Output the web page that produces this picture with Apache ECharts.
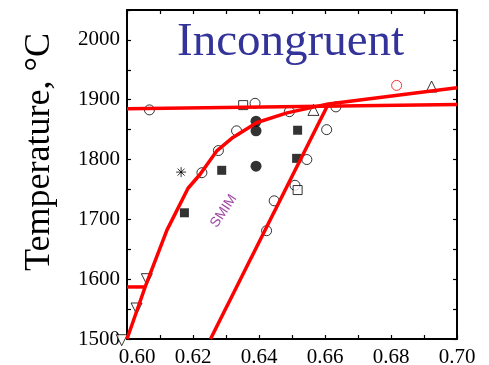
<!DOCTYPE html>
<html>
<head>
<meta charset="utf-8">
<script src="https://cdn.jsdelivr.net/npm/echarts@6/dist/echarts.min.js"></script>
<style>
  html, body { margin: 0; padding: 0; background: #ffffff; }
  #chart { width: 489px; height: 365px; }
</style>
</head>
<body>
<div id="chart"></div>
<script>
// Phase boundaries (mole fraction x, temperature in °C)
const liquidus = [[0.600, 1500], [0.6055, 1587], [0.6121, 1682], [0.6185, 1752], [0.6221, 1775],
  [0.6273, 1815], [0.6321, 1837], [0.6394, 1862], [0.6485, 1878], [0.661, 1893], [0.700, 1920]];
const solidus = [[0.6253, 1500], [0.661, 1893]];
const peritecticLine = [[0.600, 1885], [0.700, 1892]];
const eutecticLine = [[0.600, 1587], [0.6055, 1587]];

// Experimental points
const openCircles = [[0.6068, 1883], [0.6388, 1894], [0.6492, 1880], [0.6633, 1888], [0.6605, 1850],
  [0.6332, 1848], [0.6277, 1815], [0.6545, 1800], [0.6227, 1778], [0.6509, 1757], [0.6446, 1731], [0.6423, 1681]];
const redCircles = [[0.6817, 1924]];
const upTriangles = [[0.6565, 1883], [0.6923, 1922]];
const downTriangles = [[0.6060, 1600], [0.6029, 1551], [0.5984, 1498]];
const filledCircles = [[0.6391, 1864], [0.6391, 1848], [0.6391, 1789]];
const filledSquares = [[0.6517, 1849], [0.6514, 1802], [0.6287, 1782], [0.6174, 1711]];
const openSquares = [[0.6517, 1749], [0.6352, 1891]];
const asterisks = [[0.6164, 1779]];

// Region label
const regionLabel = [[0.6293, 1714]];

// Axis settings
const xTicks = { min: 0.60, max: 0.70, step: 0.02 };
const yTicks = { min: 1500, max: 2050, step: 100 };

const serif = "'Liberation Serif', 'DejaVu Serif', serif";
const axisColor = '#000000';

function baseAxis(extra) {
  return Object.assign({
    type: 'value',
    axisLine: { show: true, onZero: false, lineStyle: { color: axisColor, width: 2 } },
    axisTick: { show: true, inside: true, length: 4, lineStyle: { color: axisColor, width: 1.2 } },
    minorTick: { show: true, splitNumber: 2, length: 4, lineStyle: { color: axisColor, width: 1.2 } },
    splitLine: { show: false },
    minorSplitLine: { show: false }
  }, extra);
}

function scatter(data, symbol, size, style, extra) {
  return Object.assign({
    type: 'scatter',
    data: data,
    symbol: symbol,
    symbolSize: size,
    clip: false,
    itemStyle: style,
    z: 3
  }, extra || {});
}

function redLine(data) {
  return {
    type: 'line',
    data: data,
    showSymbol: false,
    symbol: 'none',
    clip: false,
    lineStyle: { color: '#ff0000', width: 3.5 },
    z: 5,
    silent: true
  };
}

const chart = echarts.init(document.getElementById('chart'), null, { renderer: 'canvas' });

const open = { color: '#ffffff', borderColor: '#000000', borderWidth: 1 };
const filled = { color: '#000000', borderColor: '#000000', borderWidth: 0 };

chart.setOption({
  animation: false,
  backgroundColor: '#ffffff',
  title: {
    text: 'Incongruent',
    left: 172,
    top: 14,
    textStyle: { fontFamily: serif, fontSize: 47, fontWeight: 'normal', color: '#333399' }
  },
  grid: { left: 127, right: 32, top: 10, bottom: 26, outerBoundsMode: 'none' },
  xAxis: [
    baseAxis({
      min: xTicks.min, max: xTicks.max, interval: xTicks.step, position: 'bottom',
      axisLabel: {
        show: true, margin: 8, color: '#000000', fontFamily: serif, fontSize: 21,
        formatter: function (v) {
          const s = v.toFixed(2);
          return Math.abs(v - xTicks.min) < 1e-9 ? '{first|' + s + '}' : s;
        },
        rich: { first: { fontFamily: serif, fontSize: 21, color: '#000000', padding: [0, 0, 0, 20] } }
      }
    }),
    baseAxis({
      min: xTicks.min, max: xTicks.max, interval: xTicks.step, position: 'top',
      axisLabel: { show: false }
    })
  ],
  yAxis: [
    baseAxis({
      min: yTicks.min, max: yTicks.max, interval: yTicks.step, position: 'left',
      axisLabel: { show: true, margin: 7, color: '#000000', fontFamily: serif, fontSize: 21,
        formatter: function (v) { return v <= 2000 ? String(v) : ''; } }
    }),
    baseAxis({
      min: yTicks.min, max: yTicks.max, interval: yTicks.step, position: 'right',
      axisLabel: { show: false }
    })
  ],
  graphic: [{
    type: 'text',
    x: 40,
    y: 152,
    rotation: Math.PI / 2,
    style: {
      text: 'Temperature, °C',
      fontFamily: serif,
      fontSize: 36,
      fill: '#000000',
      textAlign: 'center',
      textVerticalAlign: 'middle'
    }
  }],
  series: [
    redLine(peritecticLine),
    redLine(eutecticLine),
    redLine(liquidus),
    redLine(solidus),
    scatter(openCircles, 'circle', 10, open),
    scatter(redCircles, 'circle', 10, { color: '#ffffff', borderColor: '#ff0000', borderWidth: 1 }),
    scatter(upTriangles, 'triangle', 11, open),
    scatter(downTriangles, 'triangle', 11, open, { symbolRotate: 180 }),
    scatter(filledCircles, 'circle', 11, filled),
    scatter(filledSquares, 'rect', 9, filled),
    scatter(openSquares, 'rect', 9, open),
    scatter(asterisks, 'path://M5,0L5,10M0,5L10,5M1.5,1.5L8.5,8.5M8.5,1.5L1.5,8.5', 10,
      { color: 'none', borderColor: '#000000', borderWidth: 1 }),
    {
      type: 'scatter',
      data: regionLabel,
      symbolSize: 0,
      silent: true,
      label: {
        show: true,
        position: 'inside',
        formatter: 'SMIM',
        rotate: 56,
        fontFamily: "'Liberation Sans', Arial, sans-serif",
        fontSize: 14,
        color: '#8a1a8e'
      }
    }
  ]
});
</script>
</body>
</html>
